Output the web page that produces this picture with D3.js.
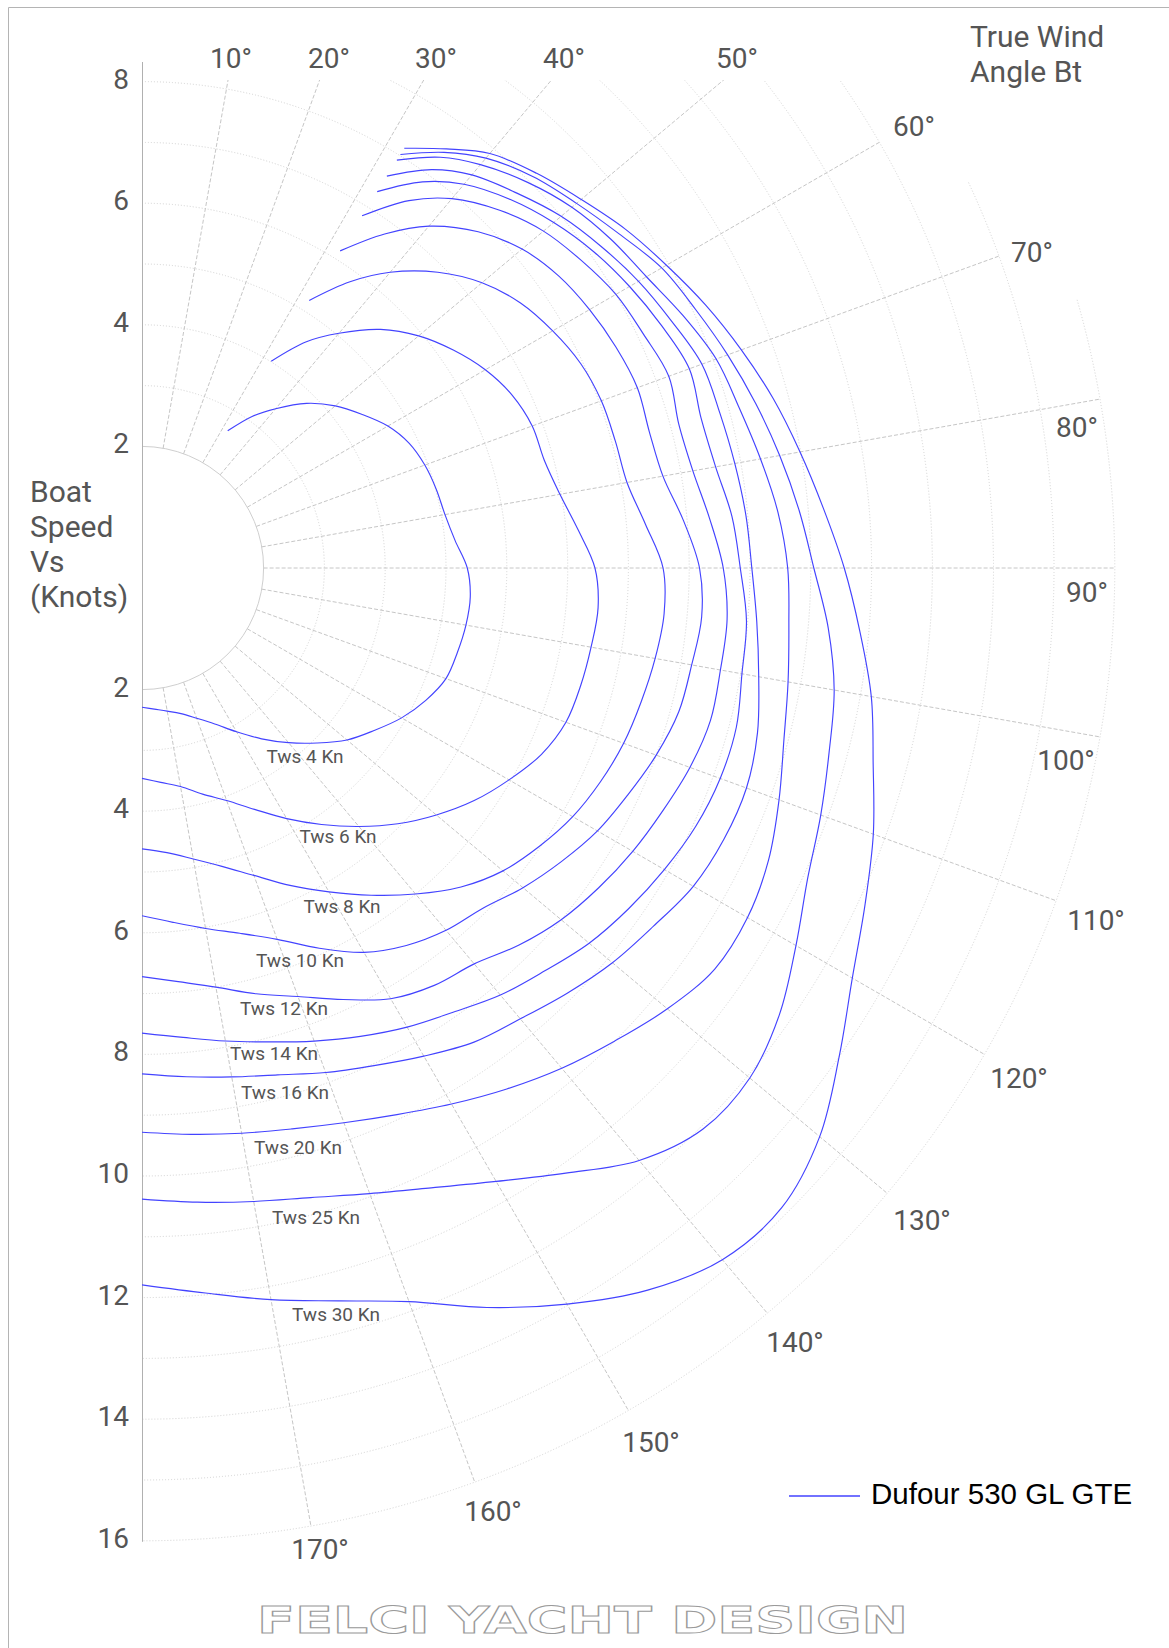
<!DOCTYPE html>
<html>
<head>
<meta charset="utf-8">
<script src="https://cdnjs.cloudflare.com/ajax/libs/d3/7.8.5/d3.min.js"></script>
<style>
	body { margin: 0; background: #fff; }
	svg { display: block; }
	.frame { stroke: #b4b4b4; stroke-width: 1; }
	.axis-line { stroke: #b0b0b0; stroke-width: 1; }
	.grid-arc { fill: none; stroke: #d2d2d2; stroke-width: 1; stroke-dasharray: 1, 2; }
	.grid-inner { fill: none; stroke: #cfcfcf; stroke-width: 1; }
	.grid-ray { stroke: #c6c6c6; stroke-width: 1; stroke-dasharray: 4, 2; }
	.polar { fill: none; stroke: #4343ff; stroke-width: 1.15; }
	.lbl { font-family: Roboto, "DejaVu Sans", sans-serif; fill: #555; }
</style>
</head>
<body>
<div class="container"></div>
<script>
const WIDTH = 1169
	, HEIGHT = 1648
	, CX = 142
	, CY = 568
	, KNOT = 60.8
	, TOP_CLIP = 80;

// true wind angle (deg) for every series
var angles = [32, 36, 40, 45, 50, 55, 60, 65, 70, 75, 80, 85, 90, 95, 100, 105, 110, 115, 120, 125, 130, 135, 140, 145, 150, 155, 160, 165, 170, 175, 180];

// boat speed (knots) per true wind speed
var tws4 = [2.66, 3.08, 3.42, 3.83, 4.15, 4.41, 4.67, 4.85, 4.95, 5.01, 5.06, 5.17, 5.35, 5.42, 5.41, 5.37, 5.32, 5.15, 4.93, 4.66, 4.40, 4.07, 3.75, 3.43, 3.11, 2.83, 2.63, 2.48, 2.39, 2.33, 2.29];
var tws6 = [4.01, 4.60, 5.04, 5.55, 5.94, 6.25, 6.52, 6.72, 6.83, 6.85, 6.98, 7.20, 7.45, 7.53, 7.50, 7.47, 7.42, 7.25, 6.97, 6.67, 6.32, 5.95, 5.55, 5.15, 4.76, 4.38, 4.07, 3.85, 3.65, 3.54, 3.46];
var tws8 = [5.19, 5.82, 6.35, 6.88, 7.30, 7.60, 7.80, 7.96, 8.04, 8.06, 8.10, 8.31, 8.57, 8.62, 8.57, 8.50, 8.43, 8.32, 8.18, 7.98, 7.75, 7.42, 7.00, 6.57, 6.15, 5.76, 5.38, 5.08, 4.86, 4.70, 4.62];
var tws10 = [6.15, 6.79, 7.34, 7.82, 8.16, 8.37, 8.50, 8.60, 8.67, 8.64, 8.70, 8.94, 9.17, 9.24, 9.18, 9.14, 9.00, 8.82, 8.65, 8.42, 8.18, 7.92, 7.78, 7.58, 7.30, 6.90, 6.50, 6.22, 6.02, 5.85, 5.72];
var tws12 = [6.83, 7.47, 7.93, 8.32, 8.62, 8.82, 9.00, 9.10, 9.22, 9.14, 9.20, 9.37, 9.56, 9.66, 9.66, 9.68, 9.59, 9.45, 9.32, 9.17, 9.00, 8.77, 8.50, 8.38, 8.18, 7.83, 7.50, 7.25, 7.00, 6.83, 6.72];
var tws14 = [7.30, 7.85, 8.24, 8.57, 8.84, 9.07, 9.26, 9.43, 9.58, 9.52, 9.58, 9.74, 9.84, 9.98, 10.02, 10.12, 10.12, 10.05, 9.92, 9.77, 9.60, 9.37, 9.17, 8.92, 8.72, 8.50, 8.28, 8.07, 7.90, 7.75, 7.65];
var tws16 = [7.60, 8.10, 8.44, 8.72, 9.00, 9.22, 9.43, 9.61, 9.80, 9.84, 9.90, 9.97, 10.03, 10.15, 10.30, 10.48, 10.58, 10.56, 10.47, 10.27, 10.10, 9.89, 9.68, 9.52, 9.27, 9.03, 8.83, 8.63, 8.50, 8.40, 8.32];
var tws20 = [7.91, 8.35, 8.66, 8.97, 9.23, 9.42, 9.58, 9.82, 10.05, 10.17, 10.33, 10.50, 10.62, 10.68, 10.79, 10.93, 11.15, 11.37, 11.50, 11.50, 11.28, 11.00, 10.74, 10.46, 10.18, 9.92, 9.71, 9.55, 9.44, 9.35, 9.28];
var tws25 = [8.02, 8.45, 8.80, 9.10, 9.33, 9.58, 9.87, 10.05, 10.25, 10.45, 10.65, 10.85, 11.05, 11.33, 11.56, 11.70, 11.88, 12.08, 12.42, 12.80, 13.05, 13.05, 12.72, 12.15, 11.65, 11.25, 10.95, 10.72, 10.58, 10.47, 10.38];
var tws30 = [8.14, 8.52, 8.90, 9.18, 9.43, 9.71, 9.96, 10.23, 10.49, 10.75, 10.99, 11.25, 11.55, 11.85, 12.18, 12.45, 12.80, 13.12, 13.49, 14.00, 14.55, 14.88, 14.85, 14.50, 13.98, 13.42, 12.84, 12.48, 12.22, 11.97, 11.79];

var windSpeeds = [4, 6, 8, 10, 12, 14, 16, 20, 25, 30];
var series = [tws4, tws6, tws8, tws10, tws12, tws14, tws16, tws20, tws25, tws30];

var angleTicks = [10, 20, 30, 40, 50, 60, 70, 80, 90, 100, 110, 120, 130, 140, 150, 160, 170];
var speedTicksUp = [8, 6, 4, 2];
var speedTicksDown = [2, 4, 6, 8, 10, 12, 14, 16];
var legendName = "Dufour 530 GL GTE";

// page positions of the text
var angleLabelPos = [[231, 68], [329, 68], [436, 68], [564, 68], [737, 68], [914, 136], [1032, 262], [1077, 437],
	[1087, 602], [1066, 770], [1096, 930], [1019, 1088], [922, 1230], [795, 1352], [651, 1452], [493, 1521], [320, 1559]];
var twsLabelPos = [[305, 763], [338, 843], [342, 913], [300, 967], [284, 1015], [274, 1060], [285, 1099], [298, 1154], [316, 1224], [336, 1321]];

var _rScale, svg;

var translate = function (x, y) {
	return "translate(" + x + "," + y + ")";
};

var rad = function (deg) {
	return deg * Math.PI / 180;
};

// outermost ring a ray may reach (the grid is cut stepwise top right)
var rayLimit = function (angle) {
	return angle < 65 ? 14 : angle < 74 ? 15 : 16;
};

var arcStart = function (speed) {
	return speed === 15 ? 65 : speed === 16 ? 74 : 0;
};

var createChart = function () {
	svg = d3.select('.container').append('svg')
		.attr('width', WIDTH)
		.attr('height', HEIGHT);
	_rScale = d3.scaleLinear()
		.domain([0, 16])
		.range([0, 16 * KNOT]);
	svg.append('defs').append('clipPath').attr('id', 'topClip')
		.append('rect')
		.attr('x', 0).attr('y', TOP_CLIP)
		.attr('width', WIDTH).attr('height', HEIGHT - TOP_CLIP);
};

var drawFrame = function () {
	svg.append('line').classed('frame', true)
		.attr('x1', 8.5).attr('y1', 7.5).attr('x2', 8.5).attr('y2', HEIGHT);
	svg.append('line').classed('frame', true)
		.attr('x1', 8.5).attr('y1', 7.5).attr('x2', WIDTH).attr('y2', 7.5);
};

var drawGrid = function () {
	var g = svg.append('g').attr('clip-path', 'url(#topClip)')
		.append('g').attr('transform', translate(CX, CY));

	g.selectAll('.grid-arc').data(d3.range(3, 17))
		.enter().append('path')
		.classed('grid-arc', true)
		.attr('d', function (s) {
			var p = d3.path();
			p.arc(0, 0, _rScale(s), rad(arcStart(s) - 90), rad(90));
			return p.toString();
		});

	var inner = d3.path();
	inner.arc(0, 0, _rScale(2), rad(-90), rad(90));
	g.append('path').classed('grid-inner', true).attr('d', inner.toString());

	g.selectAll('.grid-ray').data(angleTicks)
		.enter().append('line')
		.classed('grid-ray', true)
		.attr('x1', function (a) { return _rScale(2) * Math.sin(rad(a)); })
		.attr('y1', function (a) { return -_rScale(2) * Math.cos(rad(a)); })
		.attr('x2', function (a) { return _rScale(rayLimit(a)) * Math.sin(rad(a)); })
		.attr('y2', function (a) { return -_rScale(rayLimit(a)) * Math.cos(rad(a)); });

	svg.append('line').classed('axis-line', true)
		.attr('x1', CX + 0.5).attr('y1', 62)
		.attr('x2', CX + 0.5).attr('y2', CY + _rScale(16) + 1);
};

var drawAxisLabels = function () {
	svg.selectAll('.speed-up').data(speedTicksUp)
		.enter().append('text')
		.attr('class', 'lbl speed-up')
		.attr('x', 129)
		.attr('y', function (s) { return CY - _rScale(s) + 7; })
		.attr('text-anchor', 'end')
		.style('font-size', '28px')
		.text(function (s) { return s; });

	svg.selectAll('.speed-down').data(speedTicksDown)
		.enter().append('text')
		.attr('class', 'lbl speed-down')
		.attr('x', 129)
		.attr('y', function (s) { return CY + _rScale(s) + 7; })
		.attr('text-anchor', 'end')
		.style('font-size', '28px')
		.text(function (s) { return s; });

	svg.selectAll('.angle-lbl').data(angleTicks)
		.enter().append('text')
		.attr('class', 'lbl angle-lbl')
		.attr('x', function (a, i) { return angleLabelPos[i][0]; })
		.attr('y', function (a, i) { return angleLabelPos[i][1]; })
		.attr('text-anchor', 'middle')
		.style('font-size', '28px')
		.text(function (a) { return a + '°'; });

	var twa = svg.append('text').attr('class', 'lbl').style('font-size', '30px');
	twa.append('tspan').attr('x', 970).attr('y', 47).text('True Wind');
	twa.append('tspan').attr('x', 970).attr('y', 82).text('Angle Bt');

	var bs = svg.append('text').attr('class', 'lbl').style('font-size', '30px');
	['Boat', 'Speed', 'Vs', '(Knots)'].forEach(function (t, i) {
		bs.append('tspan').attr('x', 30).attr('y', 502 + i * 35).text(t);
	});
};

var drawCurves = function () {
	var line = d3.lineRadial()
		.angle(function (d) { return rad(d[0]); })
		.radius(function (d) { return _rScale(d[1]); })
		.curve(d3.curveCatmullRom.alpha(0.5));

	svg.append('g').attr('transform', translate(CX, CY))
		.selectAll('.polar').data(series)
		.enter().append('path')
		.classed('polar', true)
		.attr('d', function (speeds) {
			return line(angles.map(function (a, i) { return [a, speeds[i]]; }));
		});

	svg.selectAll('.tws-lbl').data(windSpeeds)
		.enter().append('text')
		.attr('class', 'lbl tws-lbl')
		.attr('x', function (v, i) { return twsLabelPos[i][0]; })
		.attr('y', function (v, i) { return twsLabelPos[i][1]; })
		.attr('text-anchor', 'middle')
		.style('font-size', '19px')
		.text(function (v) { return 'Tws ' + v + ' Kn'; });
};

var drawLegend = function () {
	svg.append('line')
		.attr('x1', 789).attr('x2', 860)
		.attr('y1', 1496).attr('y2', 1496)
		.style('stroke', '#4343ff').style('stroke-width', 1.3);
	svg.append('text')
		.attr('x', 871).attr('y', 1504)
		.style('font-family', '"Liberation Sans", Arial, sans-serif')
		.style('font-size', '29.5px')
		.style('fill', '#000')
		.text(legendName);

	svg.append('text')
		.attr('x', 257).attr('y', 1633)
		.attr('textLength', 651)
		.attr('lengthAdjust', 'spacingAndGlyphs')
		.style('font-family', '"DejaVu Sans", sans-serif')
		.style('font-weight', 'bold')
		.style('font-size', '38px')
		.style('fill', '#fff')
		.style('stroke', '#9a9a9a')
		.style('stroke-width', 1)
		.text('FELCI YACHT DESIGN');
};

window.onload = function () {
	createChart();
	drawFrame();
	drawGrid();
	drawAxisLabels();
	drawCurves();
	drawLegend();
};
</script>
</body>
</html>
